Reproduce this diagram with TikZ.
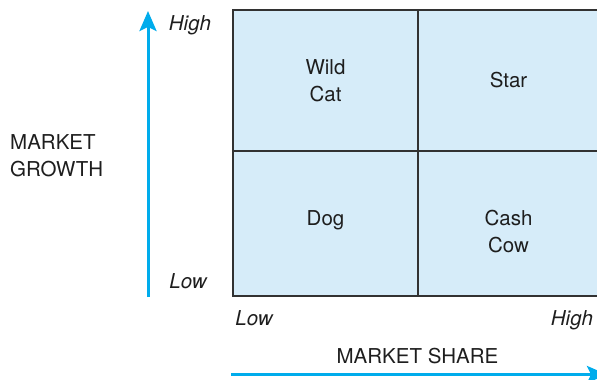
\documentclass[tikz,border=0pt]{standalone}
\usepackage{fontspec}
\setmainfont{TeX Gyre Heros}
\usetikzlibrary{arrows.meta}
\definecolor{cellfill}{RGB}{214,236,249}
\definecolor{gridline}{RGB}{50,50,50}
\definecolor{axiscyan}{RGB}{0,172,236}
\definecolor{txt}{RGB}{30,30,30}
\tikzset{
  lbl/.style={font=\fontsize{20.5}{27}\selectfont, text=txt, inner sep=0pt, align=center, anchor=base},
  ilbl/.style={lbl, font=\fontsize{20.5}{27}\selectfont\itshape},
  axisarrow/.style={draw=axiscyan, line width=3pt, -{Stealth[length=20pt,width=17pt,inset=4pt]}},
  gridstyle/.style={draw=gridline, line width=1.4pt}
}
\begin{document}
\begin{tikzpicture}[x=1pt,y=-1pt]
\useasboundingbox (0,0) rectangle (597,380);
% matrix
\fill[cellfill] (233,10) rectangle (604,296);
\draw[gridstyle] (604,10) -- (233,10) -- (233,296) -- (604,296);
\draw[gridstyle] (418,10) -- (418,296);
\draw[gridstyle] (233,151) -- (604,151);
% quadrant labels
\node[lbl] (wild) at (325.5,101) {Wild\\Cat};
\node[lbl] (star) at (508.5,87.5) {Star};
\node[lbl] (dog) at (325.5,225) {Dog};
\node[lbl] (cash) at (508.5,252) {Cash\\Cow};
% axes
\coordinate (vs) at (148,297);
\coordinate (ve) at (148,11);
\draw[axisarrow] (vs) -- (ve);
\coordinate (hs) at (231,374.5);
\coordinate (he) at (607,374.5);
\draw[axisarrow] (hs) -- (he);
% axis labels
\node[ilbl] (yhigh) at (190,30.5) {High};
\node[ilbl] (ylow) at (188,288) {Low};
\node[ilbl] (xlow) at (254,325) {Low};
\node[ilbl] (xhigh) at (572,325) {High};
\node[lbl, align=left, anchor=base west] (growth) at (10,176.5) {MARKET\\GROWTH};
\node[lbl] (share) at (417.5,363) {MARKET SHARE};
\end{tikzpicture}
\end{document}
